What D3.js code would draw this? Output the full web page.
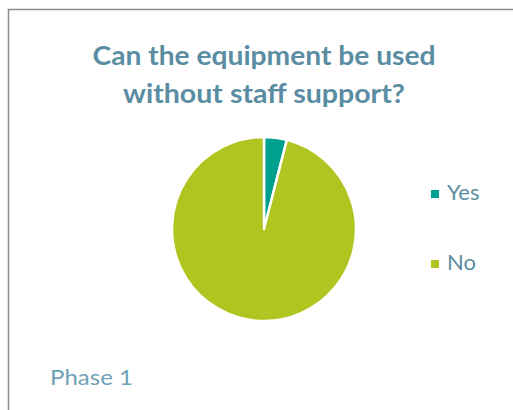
<!DOCTYPE html>
<html>
<head>
<meta charset="utf-8">
<script src="https://cdn.jsdelivr.net/npm/d3@7"></script>
<style>
  html, body { margin: 0; padding: 0; background: #fff; }
  svg { display: block; }
</style>
</head>
<body>
<svg width="513" height="410"></svg>
<script>
// chart data
const categories = ['Yes', 'No'];
const values = [4, 96];
const colours = ['#00A08F', '#B1C520'];
const titleLines = ['Can the equipment be used', 'without staff support?'];
const titleWidths = [343, 282];
const footnote = 'Phase 1';

const svg = d3.select('svg');
const width = +svg.attr('width');
const height = +svg.attr('height');
const font = 'Lato, "Open Sans", sans-serif';

// frame (right and bottom run off the picture)
svg.append('rect')
    .attr('x', 8.5)
    .attr('y', 9.5)
    .attr('width', width)
    .attr('height', height)
    .attr('fill', '#fff')
    .attr('stroke', '#8c8c8c')
    .attr('stroke-width', 1.5);

// title
svg.append('g').selectAll('text')
    .data(titleLines)
    .enter().append('text')
    .attr('x', 264)
    .attr('y', (d, i) => 65 + i * 38)
    .attr('text-anchor', 'middle')
    .attr('font-family', font)
    .attr('font-weight', 'bold')
    .attr('font-size', 26)
    .attr('textLength', (d, i) => titleWidths[i])
    .attr('lengthAdjust', 'spacingAndGlyphs')
    .attr('fill', '#5A8DA2')
    .text(d => d);

// pie
const radius = 92;
const pieG = svg.append('g')
    .attr('transform', 'translate(264,229)');

const pie = d3.pie().sort(null).value(d => d.value);
const arc = d3.arc().innerRadius(0).outerRadius(radius);
const colour = d3.scaleOrdinal().domain(categories).range(colours);

const pieData = categories.map((c, i) => ({ name: c, value: values[i] }));

pieG.selectAll('path')
    .data(pie(pieData))
    .enter().append('path')
    .attr('d', arc)
    .attr('fill', d => colour(d.data.name))
    .attr('stroke', '#fff')
    .attr('stroke-width', 2.5)
    .attr('stroke-linejoin', 'round');

// legend
const legendY = d3.scalePoint().domain(categories).range([194, 264]);

const legend = svg.append('g')
    .selectAll('g')
    .data(categories)
    .enter().append('g')
    .attr('transform', d => `translate(431,${legendY(d)})`);

legend.append('rect')
    .attr('x', 0)
    .attr('y', -4)
    .attr('width', 8)
    .attr('height', 8)
    .attr('fill', d => colour(d));

legend.append('text')
    .attr('x', 16)
    .attr('y', 6)
    .attr('font-family', font)
    .attr('font-size', 22)
    .attr('fill', '#5A8DA2')
    .text(d => d);

// footnote
svg.append('text')
    .attr('x', 50)
    .attr('y', 385)
    .attr('font-family', font)
    .attr('font-size', 22)
    .attr('textLength', 83)
    .attr('lengthAdjust', 'spacingAndGlyphs')
    .attr('fill', '#6EA2B7')
    .text(footnote);
</script>
</body>
</html>
